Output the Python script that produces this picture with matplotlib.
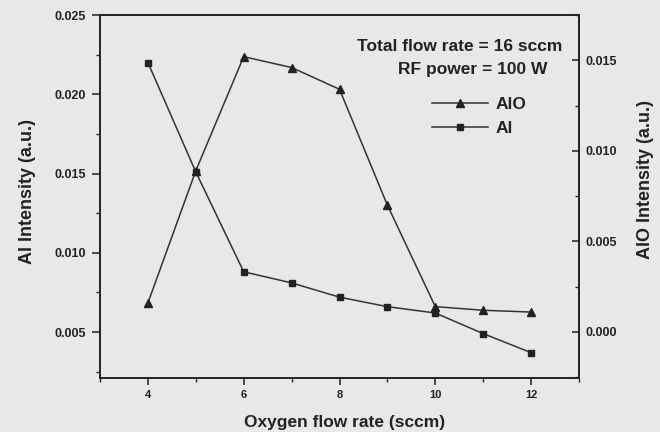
# -*- coding: utf-8 -*-

# Import required packages
import matplotlib as mpl
mpl.use('Agg')
import matplotlib.pyplot as plt
from matplotlib.ticker import MultipleLocator
import numpy as np

# Edit the font and axes width
plt.rcParams['font.family'] = ['Liberation Sans', 'DejaVu Sans']
plt.rcParams['font.weight'] = 'bold'
plt.rcParams['axes.linewidth'] = 1.2

# Data
o2_flow = [4, 5, 6, 7, 8, 9, 10, 11, 12]
al_intensity = [0.0220, 0.0151, 0.0088, 0.0081, 0.0072, 0.0066, 0.0062, 0.0049, 0.0037]
alo_intensity = [0.0016, 0.0089, 0.0152, 0.0146, 0.0134, 0.0070, 0.0014, 0.0012, 0.0011]

bg = '#e8e8e6'
ink = '#222222'

fig = plt.figure(figsize=(6.6, 4.32), dpi=100, facecolor=bg)
ax = fig.add_axes([100/660, 1-378/432, 479/660, 363/432])
ax.set_facecolor(bg)
ax2 = ax.twinx()

# Al on the left axis, AlO on the right axis
l_al, = ax.plot(o2_flow, al_intensity, color='#333333', linewidth=1.1,
                marker='s', markersize=5, markerfacecolor=ink, markeredgecolor=ink, label='Al')
l_alo, = ax2.plot(o2_flow, alo_intensity, color='#333333', linewidth=1.1,
                  marker='^', markersize=6, markerfacecolor=ink, markeredgecolor=ink, label='AlO')

ax.set_xlim(3, 13)
ax.set_ylim(0.0021, 0.025)
ax2.set_ylim(-0.00254, 0.0175)

ax.xaxis.set_major_locator(MultipleLocator(2))
ax.xaxis.set_minor_locator(MultipleLocator(1))
ax.yaxis.set_major_locator(MultipleLocator(0.005))
ax.yaxis.set_minor_locator(MultipleLocator(0.0025))
ax2.yaxis.set_major_locator(MultipleLocator(0.005))
ax2.yaxis.set_minor_locator(MultipleLocator(0.0025))

ax.xaxis.set_tick_params(which='major', size=5, width=1.1, direction='out', labelsize=8, pad=4)
ax.xaxis.set_tick_params(which='minor', size=3, width=1, direction='out')
ax.yaxis.set_tick_params(which='major', size=6, width=1.1, direction='out', labelsize=9, pad=4)
ax.yaxis.set_tick_params(which='minor', size=3, width=1, direction='out')
ax2.yaxis.set_tick_params(which='major', size=5, width=1.1, direction='in', labelsize=9, pad=4.5)
ax2.yaxis.set_tick_params(which='minor', size=3, width=1, direction='in')
ax.yaxis.set_major_formatter(mpl.ticker.FormatStrFormatter('%.3f'))
ax2.yaxis.set_major_formatter(mpl.ticker.FormatStrFormatter('%.3f'))

for a in (ax, ax2):
    for s in a.spines.values():
        s.set_color(ink)
    a.tick_params(colors=ink, which='both')

# Add the axis labels
ax.set_xlabel('Oxygen flow rate (sccm)', fontsize=12.5, fontweight='bold', color=ink)
ax.set_ylabel('Al Intensity (a.u.)', fontsize=13, fontweight='bold', color=ink)
ax2.set_ylabel('AlO Intensity (a.u.)', fontsize=13, fontweight='bold', color=ink)
ax.xaxis.set_label_coords(0.511, -0.101)
ax.yaxis.set_label_coords(-0.134, 0.514)
ax2.yaxis.set_label_coords(1.122, 0.548)

# Conditions text and legend
ax2.text(0.965, 0.912, 'Total flow rate = 16 sccm', transform=ax2.transAxes,
         ha='right', va='center', fontsize=12.5, fontweight='bold', color=ink)
ax2.text(0.933, 0.851, 'RF power = 100 W', transform=ax2.transAxes,
         ha='right', va='center', fontsize=12.5, fontweight='bold', color=ink)
ax2.legend(handles=[l_alo, l_al], loc='upper left', bbox_to_anchor=(0.693, 0.774),
           frameon=False, fontsize=12.5, handlelength=3.2, handletextpad=0.45,
           labelspacing=0.48, borderpad=0, borderaxespad=0, labelcolor=ink)

plt.savefig('out.png', dpi=100, facecolor=bg)
